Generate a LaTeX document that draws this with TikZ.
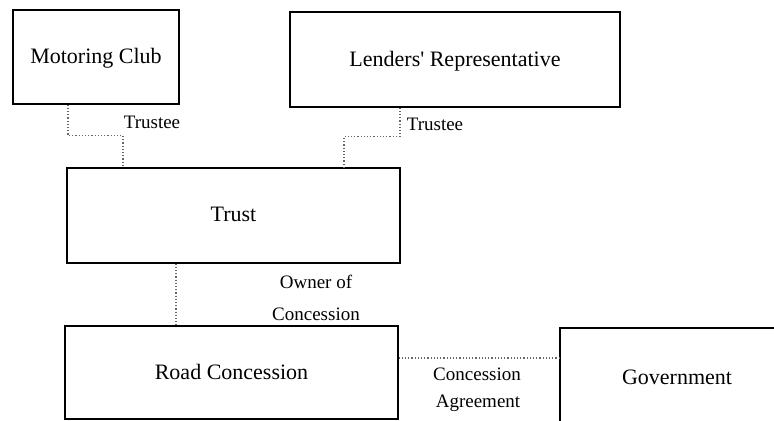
\documentclass[tikz,border=0pt]{standalone}
\usepackage{fontspec}
\setmainfont{Liberation Serif}
\usepackage{tikz}

\begin{document}
\begin{tikzpicture}
				[x=0.5pt,y=-0.5pt,text depth=1pt,
				box/.style={draw=black,line width=0.6pt,fill=white,font=\fontsize{11}{13}\selectfont,inner sep=0pt},
				tag/.style={font=\fontsize{9.5}{11}\selectfont,inner sep=1pt},
				link/.style={densely dotted,draw=black!60,line width=0.6pt}]

				\clip (0,0) rectangle (774,420);
				\fill[white] (0,0) rectangle (774,420);

				\node[box,minimum width=83pt,minimum height=47pt] (club) at (96,57) {Motoring Club};
				\node[box,minimum width=165pt,minimum height=47.5pt] (lenders) at (455,59.5) {Lenders\textquotesingle\ Representative};
				\node[box,minimum width=166.5pt,minimum height=47.5pt] (trust) at (233.5,215.5) {Trust};
				\node[box,minimum width=166.5pt,minimum height=46.5pt] (road) at (231.5,372.5) {Road Concession};
				\node[box,minimum width=117pt,minimum height=50pt] (gov) at (677,378) {Government};

				\draw[link] ([xshift=-14pt]club.south) -- ++(0,31) -| ([xshift=-55.25pt]trust.north);
				\draw[link] ([xshift=-27.5pt]lenders.south) -- ++(0,29) -| ([xshift=55.25pt]trust.north);
				\draw[link] ([xshift=-28.75pt]trust.south) -- ([xshift=-27.75pt]road.north);
				\draw[link] ([yshift=7.25pt]road.east) -- ([yshift=10pt]gov.west);

				\node[tag] (t1) at (152,123) {Trustee};
				\node[tag] (t2) at (435,125) {Trustee};
				\node[tag] (own1) at (316,283) {Owner of};
				\node[tag] (own2) at (316,315) {Concession};
				\node[tag] (agr1) at (477,375) {Concession};
				\node[tag] (agr2) at (478,402) {Agreement};
			\end{tikzpicture}
\end{document}
